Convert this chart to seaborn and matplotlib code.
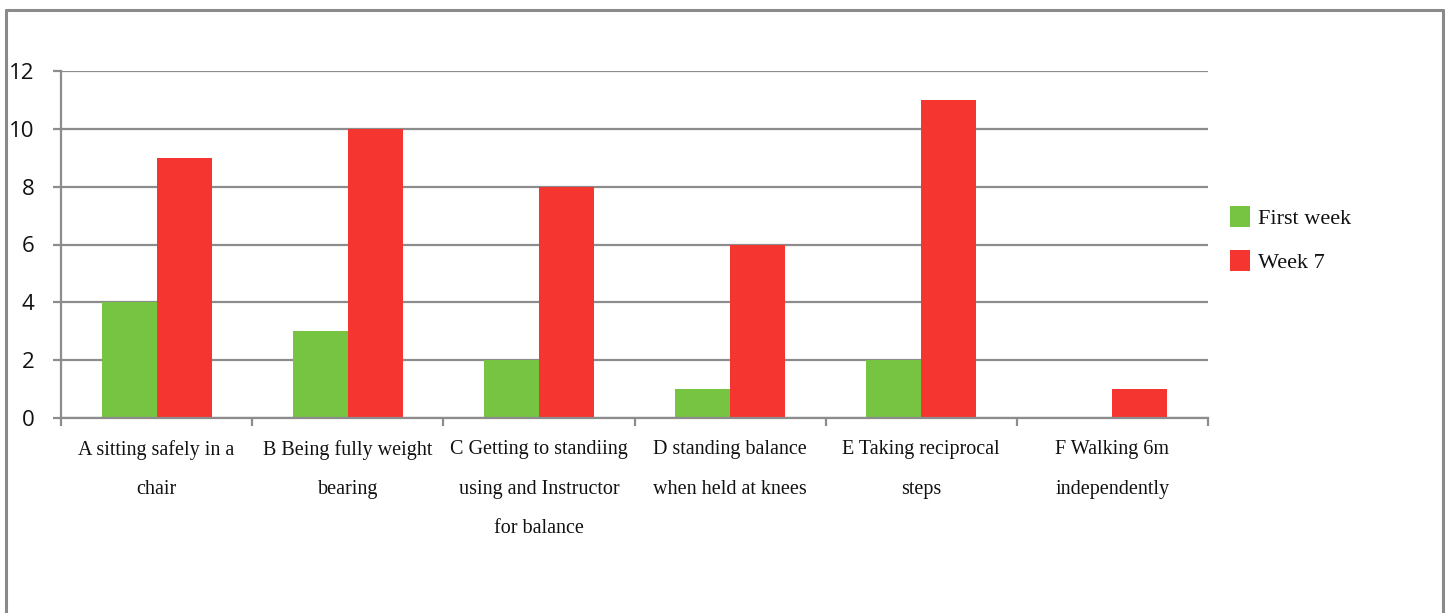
import matplotlib
matplotlib.use("Agg")
import matplotlib.pyplot as plt
from matplotlib.lines import Line2D
from matplotlib.patches import Patch
import seaborn as sns
import pandas as pd

categories = [
    "A sitting safely in a\nchair",
    "B Being fully weight\nbearing",
    "C Getting to standiing\nusing and Instructor\nfor balance",
    "D standing balance\nwhen held at knees",
    "E Taking reciprocal\nsteps",
    "F Walking 6m\nindependently",
]
series_names = ["First week", "Week 7"]
first_week = [4, 3, 2, 1, 2, 0]
week_7 = [9, 10, 8, 6, 11, 1]
colors = ["#76C442", "#F5352F"]
y_ticks = [0, 2, 4, 6, 8, 10, 12]

df = pd.DataFrame({
    "category": categories * 2,
    "series": [series_names[0]] * len(categories) + [series_names[1]] * len(categories),
    "value": first_week + week_7,
})

sns.set_theme(style="white")
plt.rcParams["font.family"] = ["Liberation Serif", "DejaVu Serif"]

W, H = 1448, 613
fig = plt.figure(figsize=(W / 100, H / 100), dpi=100)
ax = fig.add_axes([61 / W, 1 - 418 / H, (1208 - 61) / W, (418 - 71) / H])

sns.barplot(data=df, x="category", y="value", hue="series", order=categories,
            hue_order=series_names, palette=colors, width=0.575, saturation=1,
            linewidth=0, ax=ax, legend=False)

grid_c = "#8C8C8C"
ax.set_ylim(0, 12)
ax.set_xlim(-0.5, len(categories) - 0.5)
ax.set_yticks(y_ticks)
ax.set_yticklabels([str(t) for t in y_ticks], fontfamily="Open Sans", fontsize=16,
                   color="#111111")
ax.yaxis.grid(True, color=grid_c, linewidth=1.6)
ax.set_axisbelow(True)
ax.tick_params(axis="y", length=6, width=1.6, color=grid_c, pad=13, left=True)
ax.set_xlabel("")
ax.set_ylabel("")

# Category labels centred under each group; ticks at the boundaries
ax.set_xticks(range(len(categories)))
ax.set_xticklabels(categories, fontsize=14.5, linespacing=2.45, color="#111111")
ax.tick_params(axis="x", which="major", length=0, pad=16)
ax.set_xticks([i - 0.5 for i in range(len(categories) + 1)], minor=True)
ax.tick_params(axis="x", which="minor", length=6, width=1.6, color=grid_c, bottom=True)

for side in ["top", "right"]:
    ax.spines[side].set_visible(False)
for side in ["left", "bottom"]:
    ax.spines[side].set_color(grid_c)
    ax.spines[side].set_linewidth(1.6)

handles = [Patch(facecolor=c, edgecolor="none") for c in colors]
fig.legend(handles, series_names, loc="upper left",
           bbox_to_anchor=(1210 / W, 1 - 186 / H), frameon=False,
           fontsize=16, handlelength=0.9, handleheight=1.05,
           labelspacing=0.95, handletextpad=0.38, labelcolor="#111111")

# Outer chart frame
fc = "#8A8A8A"
for xs, ys in [((6 / W, 6 / W), (0, 1 - 10 / H)),
               ((6 / W, 1443 / W), (1 - 10 / H, 1 - 10 / H)),
               ((1443 / W, 1443 / W), (1 - 10 / H, 0))]:
    fig.add_artist(Line2D(xs, ys, color=fc, linewidth=2.2, transform=fig.transFigure))

fig.savefig("out.png", dpi=100)
